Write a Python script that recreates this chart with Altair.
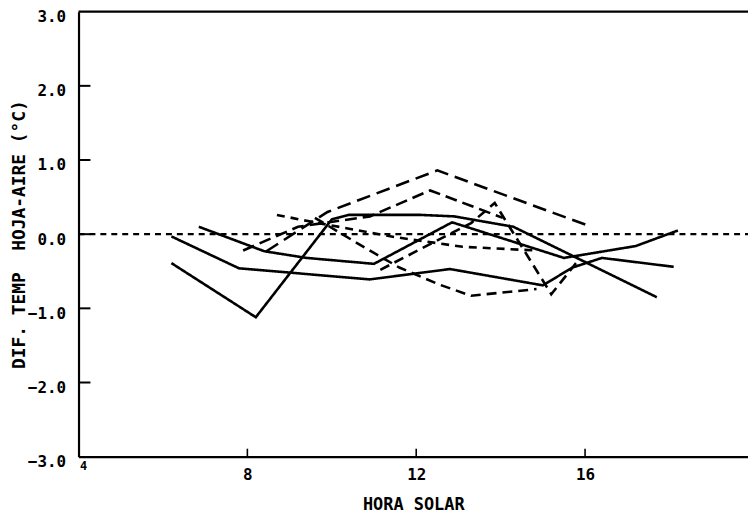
import altair as alt
import pandas as pd

# ---- data ----
s1_x = [6.2, 7.8, 10.9, 12.8, 15.0, 15.7, 16.4, 18.1]
s1_y = [-0.03, -0.46, -0.61, -0.47, -0.69, -0.45, -0.32, -0.44]

s2_x = [6.2, 8.2, 10.0, 10.4, 12.1, 12.9, 14.3, 17.7]
s2_y = [-0.39, -1.12, 0.20, 0.26, 0.26, 0.24, 0.10, -0.85]

s3_x = [6.85, 8.4, 9.4, 11.0, 12.85, 15.5, 17.2, 18.2]
s3_y = [0.10, -0.23, -0.32, -0.40, 0.16, -0.32, -0.16, 0.05]

d1_x = [8.45, 9.9, 12.5, 16.05]
d1_y = [-0.23, 0.30, 0.86, 0.12]

d2_x = [8.7, 9.4, 11.5, 13.1, 14.85]
d2_y = [0.26, 0.18, -0.04, -0.17, -0.22]

d3_x = [7.9, 9.2, 10.9, 12.33, 14.05]
d3_y = [-0.22, 0.10, 0.24, 0.59, 0.22]

d4_x = [11.15, 13.3, 13.86, 15.2, 15.8]
d4_y = [-0.48, 0.15, 0.42, -0.81, -0.38]

d5_x = [9.6, 10.6, 11.6, 12.55, 13.3, 14.85]
d5_y = [0.22, -0.12, -0.45, -0.68, -0.83, -0.74]

series = {
    "s1": (s1_x, s1_y),
    "s2": (s2_x, s2_y),
    "s3": (s3_x, s3_y),
    "d1": (d1_x, d1_y),
    "d2": (d2_x, d2_y),
    "d3": (d3_x, d3_y),
    "d4": (d4_x, d4_y),
    "d5": (d5_x, d5_y),
}
dash_names = ["s1", "s2", "s3", "d1", "d2", "d3", "d4", "d5"]
dash_styles = [[1, 0], [1, 0], [1, 0], [14, 7], [8, 6], [12, 6], [10, 6], [10, 6]]

y_tick_values = [-2, -1, 0, 1, 2]
y_label_values = [-3, -2, -1, 0, 1, 2, 3]
x_tick_values = [8, 12, 16]
corner_label = ["4"]

X_MIN, X_MAX = 4, 19.86
Y_MIN, Y_MAX = -3, 3
W, H = 674, 448
FONT = "DejaVu Sans Mono"

rows = []
for name, (xs, ys) in series.items():
    for i, (xv, yv) in enumerate(zip(xs, ys)):
        rows.append({"series": name, "order": i, "hora": xv, "dif": yv})
df = pd.DataFrame(rows)

xscale = alt.Scale(domain=[X_MIN, X_MAX], nice=False, zero=False)
yscale = alt.Scale(domain=[Y_MIN, Y_MAX], nice=False, zero=False)

lines = alt.Chart(df).mark_line(color="black", strokeWidth=2.6).encode(
    x=alt.X("hora:Q", scale=xscale,
            axis=alt.Axis(values=x_tick_values, title="HORA SOLAR", tickSize=0,
                          labelPadding=10, titlePadding=14, grid=False,
                          titleFontSize=17)),
    y=alt.Y("dif:Q", scale=yscale,
            axis=alt.Axis(values=y_label_values, format=".1f",
                          title="DIF. TEMP \u00a0HOJA-AIRE (°C)", tickSize=0,
                          labelPadding=13, labelOffset=5, labelFlush=False,
                          titleX=-50, titleY=H / 2, titleBaseline="bottom",
                          titleAngle=270, grid=False, titleFontSize=18)),
    detail="series:N",
    order="order:Q",
    strokeDash=alt.StrokeDash("series:N",
                              scale=alt.Scale(domain=dash_names, range=dash_styles),
                              legend=None),
)

zero_line = alt.Chart(pd.DataFrame({"v": [0]})).mark_rule(
    color="black", strokeWidth=2.2, strokeDash=[6, 5]
).encode(y=alt.Y("v:Q", scale=yscale), x=alt.value(0), x2=alt.value(W))

top_border = alt.Chart(pd.DataFrame({"v": [Y_MAX]})).mark_rule(
    color="black", strokeWidth=2.2
).encode(y=alt.Y("v:Q", scale=yscale), x=alt.value(0), x2=alt.value(W))

y_ticks = alt.Chart(pd.DataFrame({"v": y_tick_values})).mark_rule(
    color="black", strokeWidth=2
).encode(y=alt.Y("v:Q", scale=yscale), x=alt.value(0), x2=alt.value(12))

x_ticks = alt.Chart(pd.DataFrame({"v": x_tick_values})).mark_rule(
    color="black", strokeWidth=1.6
).encode(x=alt.X("v:Q", scale=xscale), y=alt.value(H), y2=alt.value(H - 8))

corner = alt.Chart(pd.DataFrame({"hora": [X_MIN], "dif": [Y_MIN], "t": corner_label})).mark_text(
    font=FONT, fontWeight="bold", fontSize=12, dx=5, dy=9, color="black"
).encode(x=alt.X("hora:Q", scale=xscale), y=alt.Y("dif:Q", scale=yscale), text="t:N")

chart = alt.layer(lines, zero_line, top_border, y_ticks, x_ticks, corner).properties(
    width=W, height=H,
    autosize=alt.AutoSizeParams(type="none"),
    padding={"left": 71, "top": 2, "right": 0, "bottom": 55},
).configure_view(stroke=None).configure_axis(
    domainColor="black", domainWidth=2.2,
    labelFont=FONT, labelFontWeight="bold", labelFontSize=16, labelColor="black",
    titleFont=FONT, titleFontWeight="bold", titleColor="black",
)

chart.save("out.html", embed_options={"renderer": "svg", "actions": False})
